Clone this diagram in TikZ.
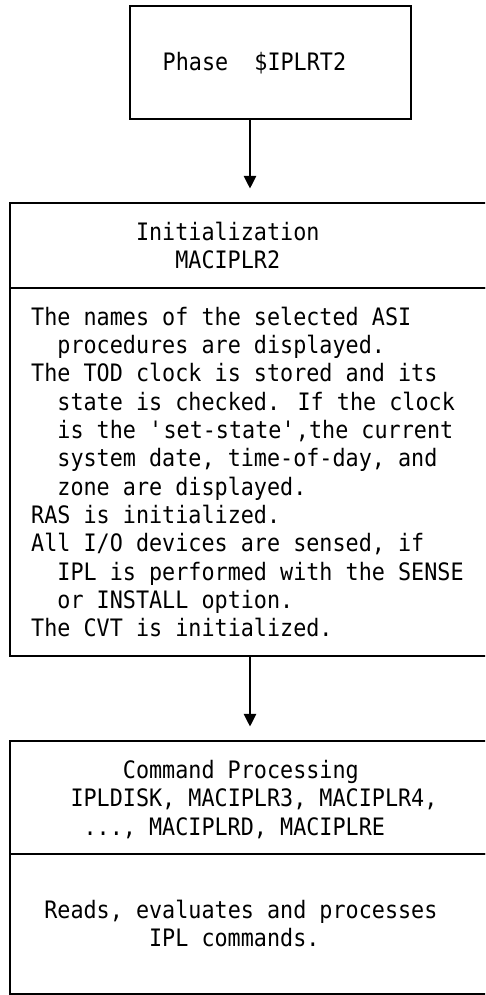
\documentclass[tikz,border=0pt]{standalone}
\usepackage{fontspec}
\usetikzlibrary{arrows.meta}
% narrow monospace face for all box texts
\newfontfamily\boxmono{DejaVu Sans Mono}[FakeStretch=0.907]

\begin{document}
\begin{tikzpicture}[x=1pt,y=-1pt,
  frame/.style={draw=black, line width=1.1pt, rectangle, inner sep=0pt},
  txt/.style={font=\boxmono\fontsize{24}{28}\selectfont, anchor=base west, inner sep=0pt},
  flow/.style={-{Triangle[width=12.5pt,length=12.5pt]}, line width=1.1pt, shorten >=14pt}]
\useasboundingbox (0,0) rectangle (485,995);
\clip (0,0) rectangle (485,995);

% boxes
\node[frame, minimum width=281pt, minimum height=113pt] (phase)    at (270.5,62.5) {};
\node[frame, minimum width=480pt, minimum height=85pt]  (initHead) at (250,245.5) {};
\node[frame, minimum width=480pt, minimum height=368pt] (initBody) at (250,472) {};
\node[frame, minimum width=480pt, minimum height=113pt] (cmdHead)  at (250,797.5) {};
\node[frame, minimum width=480pt, minimum height=140pt] (cmdBody)  at (250,924) {};

% connectors
\draw[flow] (phase.south -| initHead.north) -- (initHead.north);
\draw[flow] (initBody.south) -- (cmdHead.north);

% phase box
\node[txt] (phaseTxt) at (162.5,71) {Phase\ \ \$IPLRT2};

% initialization header
\node[txt] (initT1) at (135.8,240) {Initialization};
\node[txt] (initT2) at (175.1,268) {MACIPLR2};

% initialization body
\foreach \t [count=\k from 0] in {
  {The names of the selected ASI},
  {\ \ procedures are displayed.},
  {The TOD clock is stored and its},
  {\ \ state is checked. If the clock},
  {\ \ is the \textquotesingle set-state\textquotesingle,the current},
  {\ \ system date, time-of-day, and},
  {\ \ zone are displayed.},
  {RAS is initialized.},
  {All I/O devices are sensed, if},
  {\ \ IPL is performed with the SENSE},
  {\ \ or INSTALL option.},
  {The CVT is initialized.}}
  \node[txt] (initL\k) at (31,325+28.35*\k) {\t};

% command processing header
\node[txt] (cmdT1) at (122.7,778) {Command Processing};
\node[txt] (cmdT2) at (70.3,806.5) {IPLDISK, MACIPLR3, MACIPLR4,};
\node[txt] (cmdT3) at (83.4,835) {..., MACIPLRD, MACIPLRE};

% command processing body
\node[txt] (cmdL1) at (44.1,918) {Reads, evaluates and processes};
\node[txt] (cmdL2) at (148.9,946.5) {IPL commands.};
\end{tikzpicture}
\end{document}
